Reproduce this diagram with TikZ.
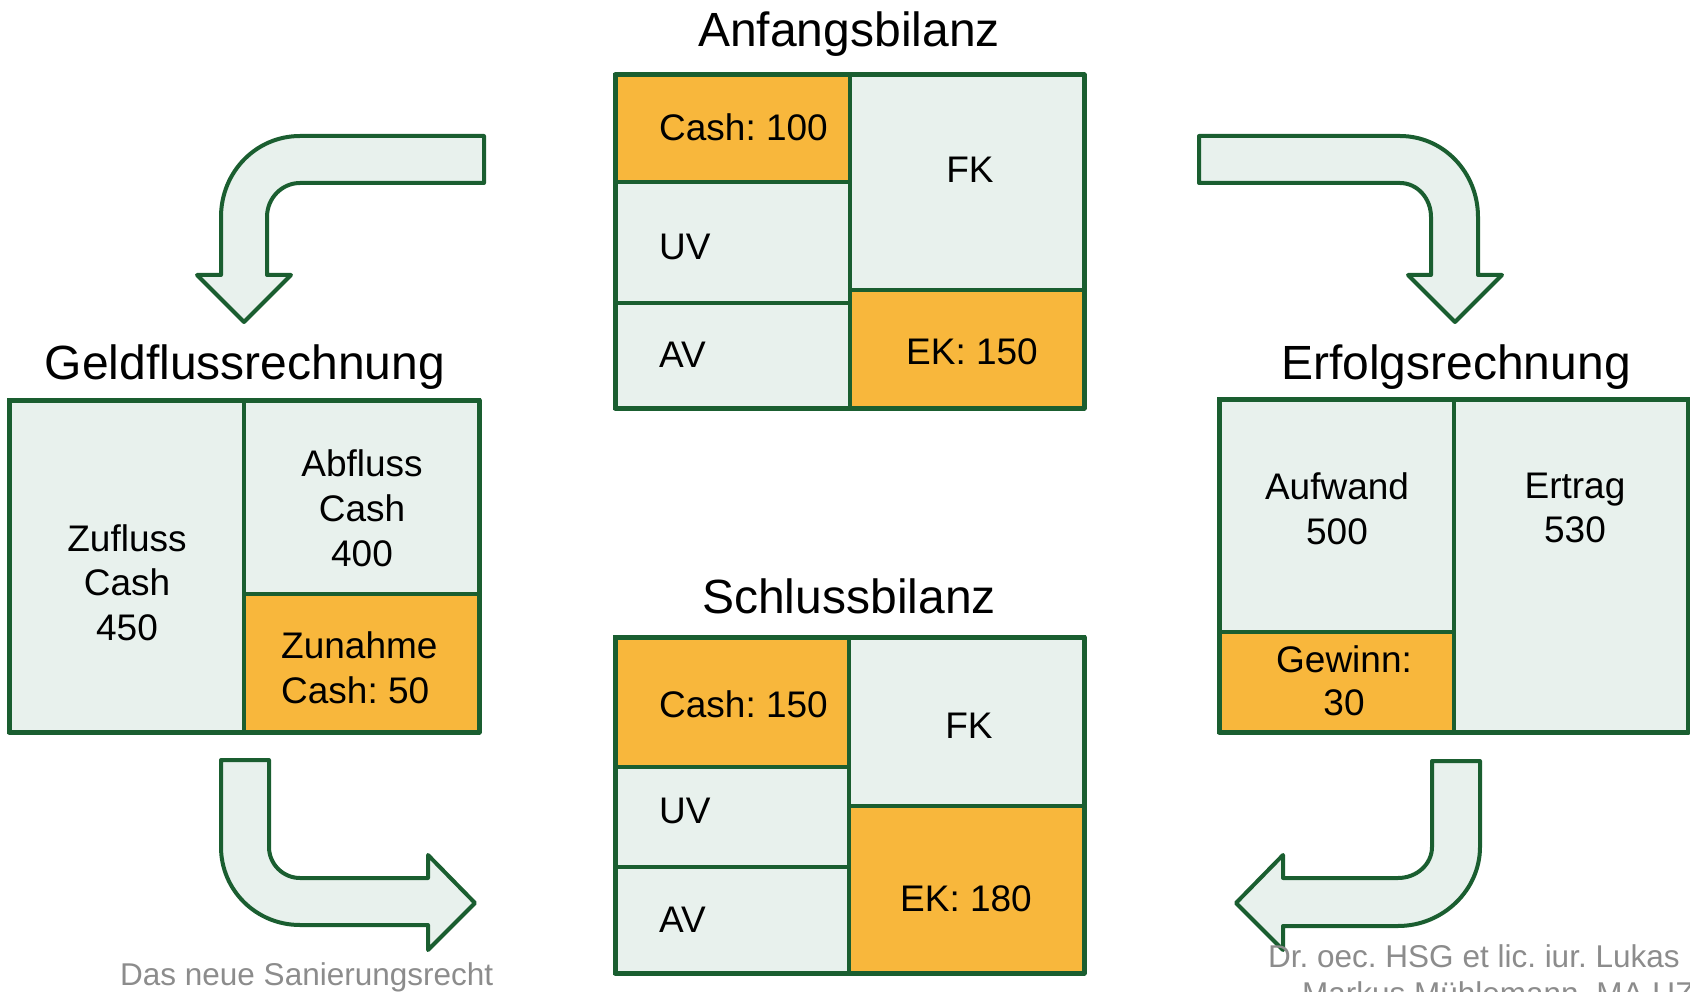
\documentclass[tikz,border=0pt]{standalone}
\usepackage{fontspec}
\setmainfont{Liberation Sans}
\frenchspacing
\definecolor{grn}{RGB}{26,94,48}
\definecolor{lite}{RGB}{232,241,237}
\definecolor{orng}{RGB}{248,183,60}
\definecolor{footgray}{RGB}{140,140,140}
\begin{document}
\begin{tikzpicture}[x=1pt,y=-1pt,
  cell/.style={draw=grn,line width=4pt,fill=lite,anchor=north west,inner sep=0pt,outer sep=0pt},
  ocell/.style={cell,fill=orng},
  frame/.style={draw=grn,line width=5pt,line join=round},
  body/.style={font=\fontsize{37}{44}\selectfont,inner sep=0pt,anchor=base},
  bodyw/.style={body,anchor=base west},
  ttl/.style={font=\fontsize{48}{56}\selectfont,inner sep=0pt,anchor=base},
  foot/.style={font=\fontsize{31.5}{38}\selectfont,text=footgray,inner sep=0pt,anchor=base west},
  barrow/.style={draw=grn,fill=lite,line width=4pt,line join=round}]
\useasboundingbox (0,0) rectangle (1690,992);

% ---------- Anfangsbilanz ----------
\node[ttl] (tA) at (849,47) {Anfangsbilanz};
\node[ocell,minimum width=235pt,minimum height=107pt] (aCash) at (615,75) {};
\node[cell,minimum width=235pt,minimum height=121pt] (aUV) at (615,182) {};
\node[cell,minimum width=235pt,minimum height=105pt] (aAV) at (615,303) {};
\node[cell,minimum width=234pt,minimum height=215pt] (aFK) at (850,75) {};
\node[ocell,minimum width=234pt,minimum height=118pt] (aEK) at (850,290) {};
\draw[frame] (aCash.north west) rectangle (aEK.south east);
\node[bodyw] (aCashT) at (659,141) {Cash: 100};
\node[bodyw] (aUVT) at (659,260) {UV};
\node[bodyw] (aAVT) at (659,367) {AV};
\node[body] (aFKT) at (970,183) {FK};
\node[body] (aEKT) at (972,364) {EK: 150};

% ---------- Schlussbilanz ----------
\node[ttl] (tS) at (849,613) {Schlussbilanz};
\node[ocell,minimum width=234pt,minimum height=130pt] (sCash) at (615,637) {};
\node[cell,minimum width=234pt,minimum height=100pt] (sUV) at (615,767) {};
\node[cell,minimum width=234pt,minimum height=106pt] (sAV) at (615,867) {};
\node[cell,minimum width=235pt,minimum height=169pt] (sFK) at (849,637) {};
\node[ocell,minimum width=235pt,minimum height=167pt] (sEK) at (849,806) {};
\draw[frame] (sCash.north west) rectangle (sEK.south east);
\node[bodyw] (sCashT) at (659,717) {Cash: 150};
\node[bodyw] (sUVT) at (659,823) {UV};
\node[bodyw] (sAVT) at (659,932) {AV};
\node[body] (sFKT) at (969,738) {FK};
\node[body] (sEKT) at (966,911) {EK: 180};

% ---------- Geldflussrechnung ----------
\node[ttl] (tG) at (245,379) {Geldflussrechnung};
\node[cell,minimum width=235pt,minimum height=332pt] (gZu) at (9,400) {};
\node[cell,minimum width=235pt,minimum height=194pt] (gAb) at (244,400) {};
\node[ocell,minimum width=235pt,minimum height=138pt] (gZn) at (244,594) {};
\draw[frame] (gZu.north west) rectangle (gZn.south east);
\node[body] (gZu1) at (127,551) {Zufluss};
\node[body] (gZu2) at (127,595) {Cash};
\node[body] (gZu3) at (127,640) {450};
\node[body] (gAb1) at (362,476) {Abfluss};
\node[body] (gAb2) at (362,521) {Cash};
\node[body] (gAb3) at (362,566) {400};
\node[bodyw] (gZn1) at (281,658) {Zunahme};
\node[bodyw] (gZn2) at (281,703) {Cash: 50};

% ---------- Erfolgsrechnung ----------
\node[ttl] (tE) at (1456,380) {Erfolgsrechnung};
\node[cell,minimum width=235pt,minimum height=233pt] (eAuf) at (1219,399) {};
\node[ocell,minimum width=235pt,minimum height=100pt] (eGew) at (1219,632) {};
\node[cell,minimum width=234pt,minimum height=333pt] (eErt) at (1454,399) {};
\draw[frame] (eAuf.north west) rectangle (eErt.south east);
\node[body] (eAuf1) at (1337,499) {Aufwand};
\node[body] (eAuf2) at (1337,544) {500};
\node[body] (eErt1) at (1575,498) {Ertrag};
\node[body] (eErt2) at (1575,542) {530};
\node[body] (eGew1) at (1344,672) {Gewinn:};
\node[body] (eGew2) at (1344,715) {30};

% ---------- block arrows ----------
% top left
\draw[barrow] (484,136) -- (300,136)
  .. controls (256,136) and (221,172) .. (221,217)
  -- (221,275) -- (197,275) -- (244,322) -- (291,275) -- (267,275) -- (267,217)
  .. controls (267,198) and (282,183) .. (300,183)
  -- (484,183) -- cycle;
% top right
\draw[barrow] (1199,136) -- (1400,136)
  .. controls (1443,136) and (1478,172) .. (1478,217)
  -- (1478,275) -- (1502,275) -- (1455,322) -- (1408,275) -- (1431,275) -- (1431,217)
  .. controls (1431,198) and (1417,183) .. (1400,183)
  -- (1199,183) -- cycle;
% bottom left
\draw[barrow] (221,760) -- (269,760) -- (269,847)
  .. controls (269,864) and (283,878) .. (300,878)
  -- (428,878) -- (428,855) -- (475,903) -- (428,950) -- (428,925) -- (300,925)
  .. controls (256,925) and (221,890) .. (221,847)
  -- cycle;
% bottom right
\draw[barrow] (1480,761) -- (1432,761) -- (1432,847)
  .. controls (1432,864) and (1417,878) .. (1398,878)
  -- (1283,878) -- (1283,855) -- (1236,903) -- (1283,950) -- (1283,926) -- (1398,926)
  .. controls (1443,926) and (1480,890) .. (1480,847)
  -- cycle;

% ---------- footer ----------
\node[foot] (f1) at (120,985) {Das neue Sanierungsrecht};
\node[foot] (f2) at (1268,967) {Dr. oec. HSG et lic. iur. Lukas};
\node[foot] (f3) at (1302,1004) {Markus Mühlemann, MA UZH};
\end{tikzpicture}
\end{document}
